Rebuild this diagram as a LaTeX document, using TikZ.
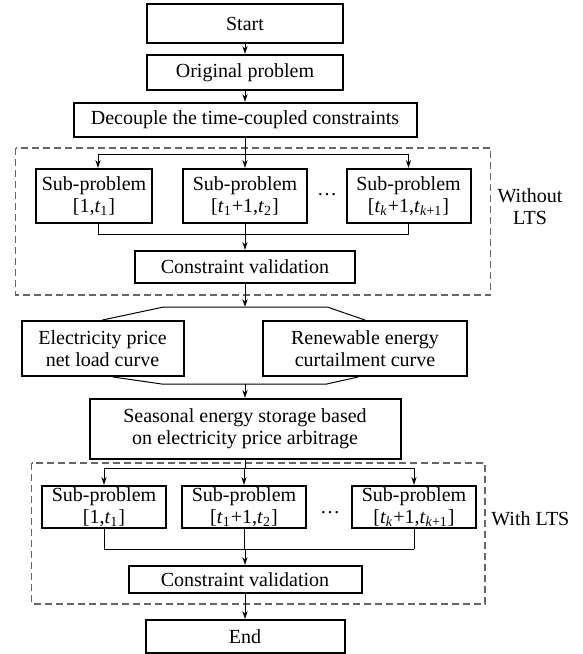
\documentclass[tikz,border=0pt]{standalone}
\usepackage{fontspec}
\setmainfont{Liberation Serif}
\usetikzlibrary{arrows.meta, calc}

\begin{document}
\begin{tikzpicture}[x=0.5pt, y=-0.5pt,
        font=\fontsize{10}{11}\selectfont,
        box/.style={draw, line width=1pt, align=center, inner sep=0pt},
        link/.style={line width=0.5pt},
        arr/.style={link, -{Stealth[length=4pt, width=2.6pt]}},
        frame/.style={draw=black!60, line width=0.6pt, dash pattern=on 3.5pt off 2pt}]
        \useasboundingbox [fill=white] (0,0) rectangle (583,654);

        % main column
        \node[box, minimum width=98pt, minimum height=19.5pt] (start) at (245,23.5) {Start};
        \node[box, minimum width=98pt, minimum height=17.5pt] (orig) at (245,72.5) {Original problem};
        \node[box, minimum width=171.5pt, minimum height=17pt] (decouple) at (245,120) {Decouple the time-coupled constraints};

        % without LTS
        \node[box, minimum width=58pt, minimum height=27pt] (sa) at (94,196) {Sub-problem\\{}[1,\textit{t}\textsubscript{1}]};
        \node[box, minimum width=62pt, minimum height=27pt] (sb) at (245,196) {Sub-problem\\{}[\textit{t}\textsubscript{1}+1,\textit{t}\textsubscript{2}]};
        \node[box, minimum width=62pt, minimum height=27pt] (sc) at (408.5,196) {Sub-problem\\{}[\textit{t}\textsubscript{\textit{k}}+1,\textit{t}\textsubscript{\textit{k}+1}]};
        \node[inner sep=0pt] (dotsA) at (327,195) {\dots};
        \node[box, minimum width=110pt, minimum height=16pt] (cvA) at (245,267) {Constraint validation};
        \node[inner sep=0pt, align=center] (woLTS) at (530,207) {Without\\LTS};
        \draw[frame] (15.6,148) rectangle (490.8,295);

        % curves
        \node[box, minimum width=81pt, minimum height=27.5pt] (elec) at (102.5,348.5) {Electricity price\\net load curve};
        \node[box, minimum width=102pt, minimum height=27.5pt] (ren) at (365,348.5) {Renewable energy\\curtailment curve};
        \node[box, minimum width=155.5pt, minimum height=30pt] (seas) at (245,429) {Seasonal energy storage based\\on electricity price arbitrage};

        % with LTS
        \node[box, minimum width=62pt, minimum height=21pt] (sd) at (104,507) {Sub-problem\\{}[1,\textit{t}\textsubscript{1}]};
        \node[box, minimum width=62pt, minimum height=21pt] (se) at (244,507) {Sub-problem\\{}[\textit{t}\textsubscript{1}+1,\textit{t}\textsubscript{2}]};
        \node[box, minimum width=62pt, minimum height=21pt] (sf) at (414,507) {Sub-problem\\{}[\textit{t}\textsubscript{\textit{k}}+1,\textit{t}\textsubscript{\textit{k}+1}]};
        \node[inner sep=0pt] (dotsB) at (330,513) {\dots};
        \node[box, minimum width=116.5pt, minimum height=13.5pt] (cvB) at (245,579.5) {Constraint validation};
        \node[inner sep=0pt, anchor=west] (wLTS) at (491,519) {With LTS};
        \draw[frame] (31.6,463) rectangle (485,604);

        \node[box, minimum width=99.5pt, minimum height=16.5pt] (finish) at (245,636.5) {End};

        % junctions
        \coordinate (brA) at (245,154);
        \coordinate (mgA) at (245,234);
        \coordinate (spl) at (245,307);
        \coordinate (splL) at (163.6,307);
        \coordinate (splR) at (327.2,307);
        \coordinate (jn) at (245,384);
        \coordinate (jnL) at (161.7,384);
        \coordinate (jnR) at (326.7,384);
        \coordinate (brB) at (245,468);
        \coordinate (mgB) at (245,549);

        \draw[arr] (start) -- (orig);
        \draw[arr] (orig) -- (decouple);
        \draw[link] (decouple) -- (brA);
        \draw[link] ($(sa.north |- brA)+(4,0)$) -- (sc.north |- brA);
        \draw[link] ($(sa.south |- mgA)+(4,0)$) -- (sc.south |- mgA);
        \foreach \s/\dx in {sa/4, sb/0, sc/0} {
            \draw[arr] ($(\s.north |- brA)+(\dx,0)$) -- ($(\s.north)+(\dx,0)$);
            \draw[link] ($(\s.south)+(\dx,0)$) -- ($(\s.south |- mgA)+(\dx,0)$);
        }
        \draw[arr] (mgA) -- (cvA);
        \draw[arr] (cvA) -- (spl);

        \draw[link] (elec.north) -- (splL) -- (splR) -- (ren.north);
        \draw[link] ($(elec.south)+(10.5,0)$) -- (jnL) -- (jnR) -- ($(ren.south)+(-7,0)$);
        \draw[arr] (jn) -- (seas);

        \draw[link] (seas) -- (brB);
        \draw[link] (sd.north |- brB) -- (sf.north |- brB);
        \draw[link] (sd.south |- mgB) -- (sf.south |- mgB);
        \foreach \s in {sd, se, sf} {
            \draw[arr] (\s.north |- brB) -- (\s);
            \draw[link] (\s) -- (\s.south |- mgB);
        }
        \draw[arr] (mgB) -- (cvB);
        \draw[arr] (cvB) -- (finish);
\end{tikzpicture}
\end{document}
